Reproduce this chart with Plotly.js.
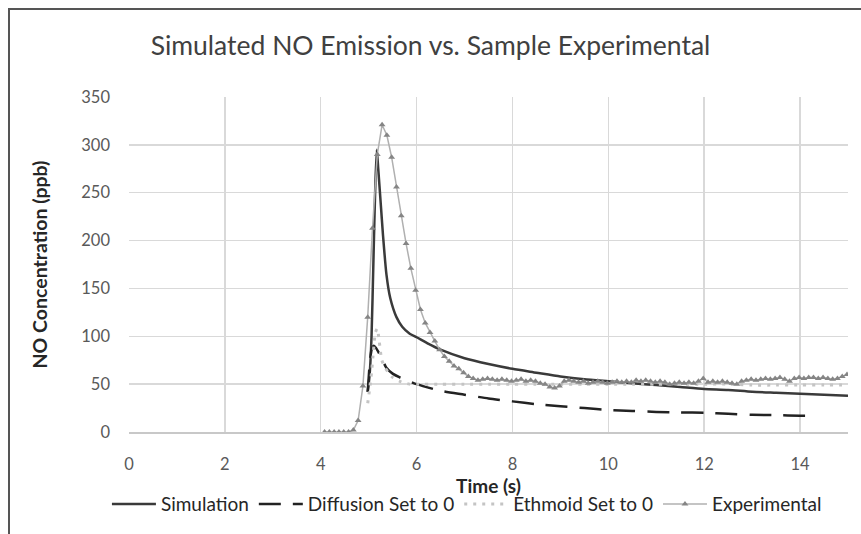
<!DOCTYPE html>
<html>
<head>
<meta charset="utf-8">
<script src="https://cdn.plot.ly/plotly-3.0.1.min.js"></script>
<style>
html,body{margin:0;padding:0;overflow:hidden;background:#fff;}
#frame{position:absolute;left:8px;top:8px;width:900px;height:600px;border:2px solid #555;pointer-events:none;}
</style>
</head>
<body>
<div id="chart" style="width:861px;height:534px;"></div>
<div id="frame"></div>
<script>
// ---- data ----
const simTime = [4.98, 5.02, 5.06, 5.10, 5.14, 5.17, 5.20, 5.25, 5.30, 5.37, 5.45, 5.58, 5.70, 5.85, 6.00, 6.25, 6.50, 7.00, 7.50, 8.00, 8.50, 9.00, 9.50, 10.00, 10.50, 11.00, 11.50, 12.00, 12.50, 13.00, 13.50, 14.00, 14.50, 15.00];
const simNO   = [42, 60, 100, 180, 260, 295, 275, 240, 205, 165, 140, 120, 110, 103, 99, 92, 86, 77, 71, 66, 62, 58, 55, 53, 51, 49, 47, 45, 44, 42, 41, 40, 39, 38];

const diffTime = [4.98, 5.02, 5.06, 5.10, 5.15, 5.22, 5.30, 5.37, 5.50, 5.65, 5.80, 6.00, 6.50, 7.00, 7.50, 8.00, 8.50, 9.00, 9.50, 10.00, 10.50, 11.00, 11.50, 12.00, 12.50, 13.00, 13.50, 14.00, 14.15];
const diffNO   = [42, 70, 86, 90, 88, 82, 74, 67, 61, 57, 54, 50, 43, 39, 35, 32, 29, 27, 25, 23, 22, 21, 20.5, 20, 19, 18, 17.7, 17, 17];

const ethTime = [4.98, 5.02, 5.06, 5.10, 5.14, 5.18, 5.22, 5.27, 5.33, 5.40, 5.50, 5.65, 5.85, 6.00, 6.50, 7.00, 7.50, 8.00, 8.50, 9.00, 9.50, 10.00, 10.50, 11.00, 11.50, 12.00, 12.50, 13.00, 13.50, 14.00, 14.50, 15.00];
const ethNO   = [30, 45, 62, 85, 104, 108, 95, 76, 68, 63, 57, 53, 50, 50, 50, 50, 50, 50, 50, 50, 50, 50, 50, 50, 50, 50, 50, 49, 49, 49, 49, 49];

const expTime = [4.08, 4.18, 4.28, 4.38, 4.48, 4.58, 4.68, 4.78, 4.88, 4.98, 5.08, 5.18, 5.28, 5.38, 5.48, 5.58, 5.68, 5.78, 5.88, 5.98,
  6.08, 6.18, 6.28, 6.38, 6.48, 6.58, 6.68, 6.78, 6.88, 6.98, 7.08, 7.18, 7.28, 7.38, 7.48, 7.58, 7.68, 7.78, 7.88, 7.98,
  8.08, 8.18, 8.28, 8.38, 8.48, 8.58, 8.68, 8.78, 8.88, 8.98, 9.08, 9.18, 9.28, 9.38, 9.48, 9.58, 9.68, 9.78, 9.88, 9.98,
  10.08, 10.18, 10.28, 10.38, 10.48, 10.58, 10.68, 10.78, 10.88, 10.98, 11.08, 11.18, 11.28, 11.38, 11.48, 11.58, 11.68, 11.78, 11.88, 11.98,
  12.08, 12.18, 12.28, 12.38, 12.48, 12.58, 12.68, 12.78, 12.88, 12.98, 13.08, 13.18, 13.28, 13.38, 13.48, 13.58, 13.68, 13.78, 13.88, 13.98,
  14.08, 14.18, 14.28, 14.38, 14.48, 14.58, 14.68, 14.78, 14.88, 14.98];
const expNO = [0, 0, 0, 0, 0, 0, 2, 12, 48, 120, 213, 290, 321, 310, 287, 256, 226, 197, 171, 148,
  128, 114, 104, 95, 86, 79, 74, 69, 66, 62, 58, 56, 54, 55, 56, 55, 54, 55, 54, 53,
  54, 55, 53, 54, 53, 51, 50, 47, 46, 48, 53, 54, 53, 52, 53, 51, 52, 53, 52, 51,
  52, 53, 52, 53, 52, 54, 53, 54, 53, 52, 53, 52, 50, 51, 52, 51, 52, 51, 53, 56,
  52, 53, 52, 53, 52, 51, 50, 53, 54, 55, 54, 55, 56, 55, 56, 57, 55, 53, 56, 57,
  56, 57, 57, 56, 57, 56, 55, 56, 58, 60];

const seriesNames = ['Simulation', 'Diffusion Set to 0', 'Ethmoid Set to 0', 'Experimental'];
const xTicks = [0, 2, 4, 6, 8, 10, 12, 14];
const yTicks = [0, 50, 100, 150, 200, 250, 300, 350];

const FONT = 'Lato, "Open Sans", sans-serif';

const traces = [
  {x: simTime, y: simNO, name: seriesNames[0], mode: 'lines',
   line: {color: '#3a3a3a', width: 2.5, shape: 'spline', smoothing: 0.6}},
  {x: diffTime, y: diffNO, name: seriesNames[1], mode: 'lines',
   line: {color: '#222', width: 2.5, dash: '22px,12px', shape: 'spline', smoothing: 0.6}},
  {x: ethTime, y: ethNO, name: seriesNames[2], mode: 'lines',
   line: {color: '#c4c4c4', width: 3, dash: '3px,6px', shape: 'spline', smoothing: 0.6}},
  {x: expTime, y: expNO, name: seriesNames[3], mode: 'lines+markers',
   line: {color: '#b0b0b0', width: 1.5},
   marker: {symbol: 'triangle-up', size: 6, color: '#858585'}}
];

const layout = {
  width: 861, height: 534,
  margin: {l: 129, r: 13, t: 97, b: 101},
  paper_bgcolor: '#fff', plot_bgcolor: '#fff',
  font: {family: FONT, color: '#595959', size: 16.5},
  title: {text: 'Simulated NO Emission vs. Sample Experimental',
          font: {family: FONT, size: 26.5, color: '#404040'},
          x: 0.5, xanchor: 'center', y: 0.915, yanchor: 'middle'},
  xaxis: {range: [0, 15], tickvals: xTicks, ticktext: xTicks.map(String),
          showgrid: true, gridcolor: '#d9d9d9', gridwidth: 1.5,
          showline: true, linecolor: '#c8c8c8', linewidth: 1.5,
          zeroline: false, ticks: '', ticklabelstandoff: 17,
          tickfont: {size: 16.5, color: '#595959'},
          title: {text: '<b>Time (s)</b>', font: {size: 19, color: '#262626'}, standoff: 2}},
  yaxis: {range: [0, 350], tickvals: yTicks, ticktext: yTicks.map(String),
          showgrid: true, gridcolor: '#d9d9d9', gridwidth: 1.5,
          zeroline: false, showline: false, ticks: '', ticklabelstandoff: 18,
          tickfont: {size: 16.5, color: '#595959'},
          title: {text: '<b>NO Concentration (ppb)</b>', font: {size: 19.5, color: '#262626'}, standoff: 28}},
  showlegend: true,
  legend: {orientation: 'h', x: 0.47, xanchor: 'center', y: -0.155, yanchor: 'top',
           itemwidth: 44,
           font: {size: 19, color: '#262626'}, bgcolor: 'rgba(0,0,0,0)'}
};

Plotly.newPlot('chart', traces, layout, {displayModeBar: false, staticPlot: true});
</script>
</body>
</html>
